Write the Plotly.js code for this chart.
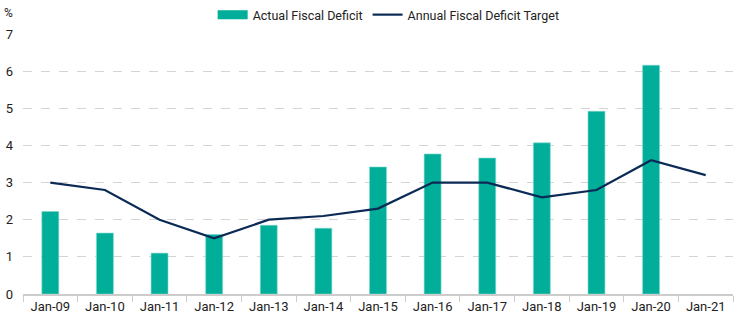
<!DOCTYPE html>
<html><head><meta charset="utf-8">
<script src="https://cdn.plot.ly/plotly-3.0.1.min.js"></script>
<style>html,body{margin:0;padding:0;background:#fff}#chart{width:737px;height:325px}</style>
</head><body><div id="chart"></div>
<script>
const categories = ["Jan-09","Jan-10","Jan-11","Jan-12","Jan-13","Jan-14","Jan-15","Jan-16","Jan-17","Jan-18","Jan-19","Jan-20","Jan-21"];
const actualDeficit = [2.22, 1.64, 1.10, 1.60, 1.85, 1.77, 3.42, 3.77, 3.66, 4.07, 4.92, 6.16, null];
const deficitTarget = [3.0, 2.8, 2.0, 1.5, 2.0, 2.1, 2.3, 3.0, 3.0, 2.6, 2.8, 3.6, 3.2];
const yTicks = [0,1,2,3,4,5,6,7];
const barName = "Actual Fiscal Deficit";
const lineName = "Annual Fiscal Deficit Target";
const teal = "#00AE9A", navy = "#0B2A55";

const traces = [
  {type:"bar", name:barName, x:categories, y:actualDeficit, showlegend:false,
   marker:{color:teal, line:{color:"#7FD6CC", width:0.6}}},
  // legend-only swatch drawn as a wide rectangle like the reference
  {type:"scatter", mode:"lines", name:barName, x:[null], y:[null], showlegend:true,
   line:{color:teal, width:9}},
  {type:"scatter", mode:"lines", name:lineName, x:categories, y:deficitTarget,
   line:{color:navy, width:2.2}}
];
const layout = {
  width:737, height:325,
  margin:{l:23, r:4, t:34, b:31},
  paper_bgcolor:"#fff", plot_bgcolor:"#fff",
  font:{family:"Roboto, sans-serif", size:13, color:"#222"},
  bargap:0.69,
  showlegend:true,
  legend:{orientation:"h", x:0.515, xanchor:"center", y:1, yanchor:"top", yref:"container",
          font:{size:12.5, color:"#222"}, itemwidth:30, tracegroupgap:0},
  xaxis:{type:"category", showgrid:false, showline:true, linecolor:"#cccccc", linewidth:1.5,
         ticks:"outside", tickson:"boundaries", ticklen:6, tickcolor:"#cccccc", tickwidth:1,
         tickfont:{size:13, color:"#222"}, fixedrange:true},
  yaxis:{range:[0,7], tickvals:yTicks, showgrid:true, gridcolor:"#d4d4d4", griddash:"dash", gridwidth:1,
         zeroline:false, showline:false, ticks:"", tickfont:{size:13, color:"#222"}, ticklabelstandoff:9},
  annotations:[{text:"%", xref:"paper", yref:"paper", x:-0.02, y:1.081, xanchor:"center", yanchor:"middle",
                showarrow:false, font:{size:12, color:"#222"}}]
};
Plotly.newPlot("chart", traces, layout, {displayModeBar:false, staticPlot:true});
</script></body></html>
